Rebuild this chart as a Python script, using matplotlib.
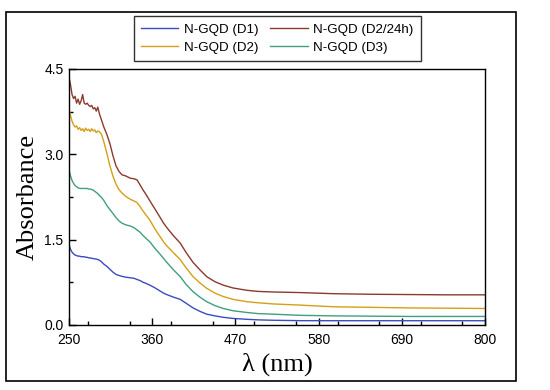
import matplotlib
matplotlib.use("Agg")
import matplotlib.pyplot as plt
from matplotlib.patches import Rectangle
from matplotlib.ticker import MultipleLocator

# wavelength grid (nm)
wavelength = [250, 252, 254, 256, 258, 260, 262, 264, 266, 268, 270, 272, 274, 276,
              278, 280, 282, 284, 286, 288, 290, 293, 296, 300, 304, 308, 312, 316,
              320, 325, 331, 336, 340, 344, 348, 352, 357, 364, 370, 375, 380, 388,
              397, 405, 414, 423, 432, 443, 454, 467, 485, 500, 520, 555, 600, 650,
              700, 750, 800]

abs_d1 = [1.41, 1.33, 1.28, 1.25, 1.23, 1.22, 1.21, 1.21, 1.20, 1.20, 1.20, 1.19, 1.19, 1.18,
          1.18, 1.17, 1.17, 1.16, 1.16, 1.15, 1.14, 1.11, 1.07, 1.03, 0.98, 0.93, 0.89, 0.87,
          0.855, 0.84, 0.83, 0.82, 0.80, 0.78, 0.75, 0.73, 0.70, 0.65, 0.60, 0.56, 0.53, 0.49,
          0.45, 0.38, 0.30, 0.24, 0.19, 0.16, 0.135, 0.115, 0.10, 0.09, 0.083, 0.076, 0.075, 0.075,
          0.075, 0.075, 0.075]

abs_d2 = [3.80, 3.68, 3.58, 3.52, 3.48, 3.50, 3.44, 3.47, 3.42, 3.45, 3.40, 3.46, 3.42, 3.44,
          3.40, 3.45, 3.41, 3.43, 3.38, 3.41, 3.40, 3.35, 3.22, 3.02, 2.80, 2.62, 2.48, 2.38,
          2.32, 2.26, 2.21, 2.18, 2.15, 2.08, 2.00, 1.93, 1.84, 1.68, 1.56, 1.46, 1.38, 1.27,
          1.15, 1.00, 0.85, 0.74, 0.645, 0.56, 0.50, 0.45, 0.41, 0.39, 0.37, 0.35, 0.32, 0.31,
          0.30, 0.295, 0.29]

abs_d2_24h = [4.35, 4.22, 4.05, 3.98, 4.02, 3.90, 3.97, 3.88, 3.94, 4.05, 3.90, 3.88, 3.90, 3.86,
              3.84, 3.86, 3.80, 3.82, 3.76, 3.83, 3.72, 3.60, 3.48, 3.35, 3.19, 2.98, 2.80, 2.70,
              2.64, 2.62, 2.58, 2.57, 2.55, 2.46, 2.37, 2.29, 2.18, 2.03, 1.90, 1.79, 1.70, 1.57,
              1.44, 1.27, 1.10, 0.97, 0.85, 0.76, 0.70, 0.65, 0.61, 0.59, 0.58, 0.57, 0.55, 0.54,
              0.535, 0.53, 0.53]

abs_d3 = [2.72, 2.62, 2.54, 2.49, 2.45, 2.43, 2.41, 2.40, 2.40, 2.40, 2.40, 2.40, 2.40, 2.39,
          2.39, 2.38, 2.37, 2.35, 2.33, 2.31, 2.28, 2.24, 2.19, 2.10, 2.03, 1.96, 1.89, 1.83,
          1.79, 1.76, 1.74, 1.71, 1.67, 1.63, 1.57, 1.52, 1.46, 1.34, 1.25, 1.17, 1.09, 0.97,
          0.85, 0.71, 0.585, 0.49, 0.41, 0.34, 0.29, 0.25, 0.22, 0.20, 0.19, 0.17, 0.16, 0.155,
          0.15, 0.15, 0.15]

labels = ['N-GQD (D1)', 'N-GQD (D2)', 'N-GQD (D2/24h)', 'N-GQD (D3)']
colors = ['#3a4cc0', '#d4a017', '#8b3a2e', '#3f9f7f']

fig = plt.figure(figsize=(5.5, 3.9), dpi=100)
ax = fig.add_axes([0.1255, 0.1667, 0.7564, 0.6564])

for y, lab, c in zip([abs_d1, abs_d2, abs_d2_24h, abs_d3], labels, colors):
    ax.plot(wavelength, y, color=c, lw=1.0, label=lab)

ax.set_xlim(250, 800)
ax.set_ylim(0, 4.5)
ax.set_xticks([250, 360, 470, 580, 690, 800])
ax.set_yticks([0, 1.5, 3.0, 4.5])
ax.set_yticklabels(['0.0', '1.5', '3.0', '4.5'])
ax.xaxis.set_minor_locator(MultipleLocator(55))
ax.yaxis.set_minor_locator(MultipleLocator(0.75))
ax.tick_params(which='both', direction='in', top=False, right=False,
               labelsize=10, width=1)
ax.tick_params(which='major', length=5)
ax.tick_params(which='minor', length=3)
ax.tick_params(axis='x', pad=6)
ax.tick_params(axis='y', pad=4)
for t in ax.get_xticklabels() + ax.get_yticklabels():
    t.set_family('Liberation Sans')
for s in ax.spines.values():
    s.set_linewidth(1.0)

ax.set_xlabel('λ (nm)', family='Liberation Serif', fontsize=19, labelpad=4)
ax.set_ylabel('Absorbance', family='Liberation Serif', fontsize=19, labelpad=4)

leg = fig.legend(loc='upper center', bbox_to_anchor=(0.504, 0.959), ncol=2,
                 prop={'family': 'Liberation Sans', 'size': 9.6},
                 frameon=True, fancybox=False, edgecolor='black',
                 handlelength=2.8, columnspacing=0.9, handletextpad=0.4,
                 borderpad=0.55, labelspacing=0.45, borderaxespad=0)
leg.get_frame().set_linewidth(1.0)

# outer frame around the figure
fig.patches.append(Rectangle((0.011, 0.023), 0.927, 0.946, transform=fig.transFigure,
                             fill=False, edgecolor='black', lw=1.2))

fig.savefig('out.png', dpi=100)
